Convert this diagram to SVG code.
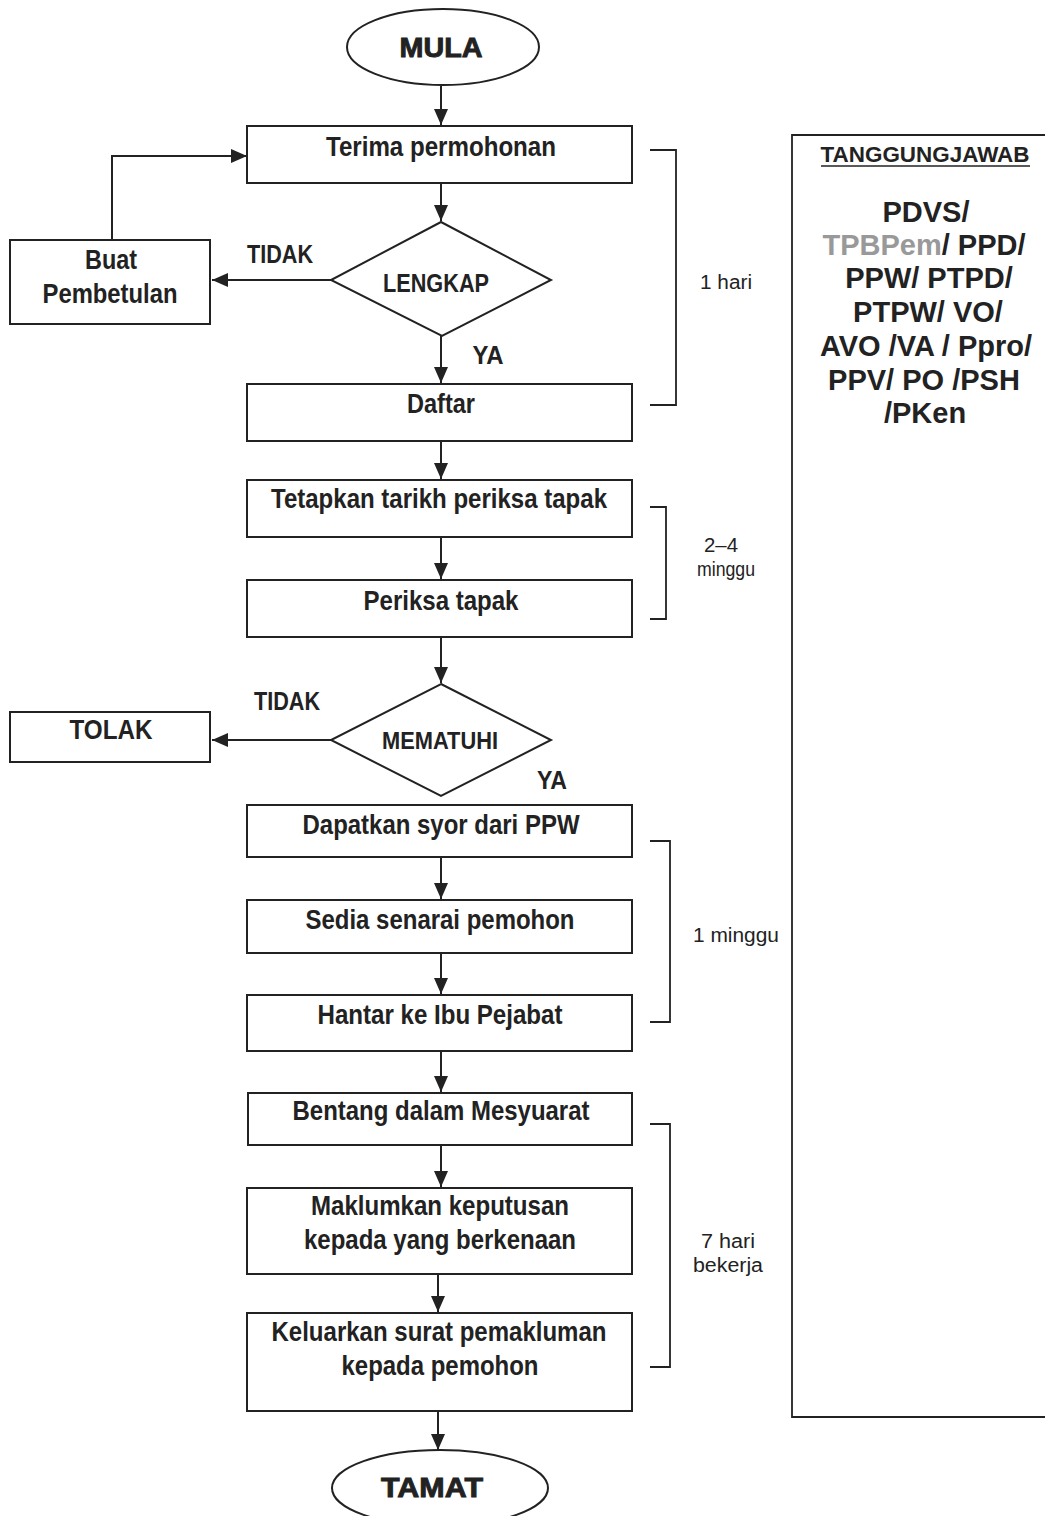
<svg xmlns="http://www.w3.org/2000/svg" width="1045" height="1516" viewBox="0 0 1045 1516">
<style>
.bx{fill:#fff;stroke:#222;stroke-width:2}
.ln{fill:none;stroke:#222;stroke-width:2}
.br{fill:none;stroke:#222;stroke-width:1.8}
.t{font-family:"Liberation Sans",Arial,sans-serif;font-weight:bold;fill:#222;text-anchor:middle}
.n{font-size:28px}
.h{font-size:28px;stroke:#222;stroke-width:0.9}
.r{font-size:29px}
.tm{font-family:"Liberation Sans",Arial,sans-serif;font-size:20px;fill:#222;text-anchor:middle}
</style>
<defs>
<marker id="ah" viewBox="0 0 16 14" markerUnits="userSpaceOnUse" markerWidth="16" markerHeight="14" refX="16" refY="7" orient="auto">
<path d="M0,0 L16,7 L0,14 z" fill="#222"/>
</marker>
</defs>
<rect width="1045" height="1516" fill="#fff"/>

<g id="connectors">
<path class="ln" marker-end="url(#ah)" d="M441,86 V125"/>
<path class="ln" marker-end="url(#ah)" d="M441,183 V221"/>
<path class="ln" marker-end="url(#ah)" d="M331,280 H212"/>
<path class="ln" marker-end="url(#ah)" d="M112,240 V156 H247"/>
<path class="ln" marker-end="url(#ah)" d="M441,336 V383"/>
<path class="ln" marker-end="url(#ah)" d="M441,441 V479"/>
<path class="ln" marker-end="url(#ah)" d="M441,537 V579"/>
<path class="ln" marker-end="url(#ah)" d="M441,637 V683"/>
<path class="ln" marker-end="url(#ah)" d="M331,740 H212"/>
<path class="ln" marker-end="url(#ah)" d="M441,857 V899"/>
<path class="ln" marker-end="url(#ah)" d="M441,953 V994"/>
<path class="ln" marker-end="url(#ah)" d="M441,1051 V1092"/>
<path class="ln" marker-end="url(#ah)" d="M441,1145 V1187"/>
<path class="ln" marker-end="url(#ah)" d="M438,1274 V1312"/>
<path class="ln" marker-end="url(#ah)" d="M438,1411 V1450"/>
<text class="t" x="280" y="263" font-size="25" textLength="66" lengthAdjust="spacingAndGlyphs">TIDAK</text>
<text class="t" x="488" y="364" font-size="25" textLength="31" lengthAdjust="spacingAndGlyphs">YA</text>
<text class="t" x="287" y="710" font-size="25" textLength="66" lengthAdjust="spacingAndGlyphs">TIDAK</text>
<text class="t" x="552" y="789" font-size="25" textLength="30" lengthAdjust="spacingAndGlyphs">YA</text>
</g>

<g id="brackets">
<path class="br" d="M650,150 H676 V405 H650"/>
<text class="tm" x="726" y="289" textLength="52" lengthAdjust="spacingAndGlyphs">1 hari</text>
<path class="br" d="M650,507 H666 V619 H650"/>
<text class="tm" x="721" y="552" textLength="34" lengthAdjust="spacingAndGlyphs">2–4</text>
<text class="tm" x="726" y="576" textLength="58" lengthAdjust="spacingAndGlyphs">minggu</text>
<path class="br" d="M650,841 H670 V1022 H650"/>
<text class="tm" x="736" y="942" textLength="86" lengthAdjust="spacingAndGlyphs">1 minggu</text>
<path class="br" d="M650,1124 H670 V1367 H650"/>
<text class="tm" x="728" y="1248" textLength="54" lengthAdjust="spacingAndGlyphs">7 hari</text>
<text class="tm" x="728" y="1272" textLength="70" lengthAdjust="spacingAndGlyphs">bekerja</text>
</g>

<g id="mula">
<ellipse class="bx" cx="443" cy="47" rx="96" ry="38"/>
<text class="t h" x="441" y="57" textLength="83" lengthAdjust="spacingAndGlyphs">MULA</text>
</g>
<g id="terima">
<rect class="bx" x="247" y="126" width="385" height="57"/>
<text class="t n" x="441" y="156" textLength="230" lengthAdjust="spacingAndGlyphs">Terima permohonan</text>
</g>
<g id="lengkap">
<polygon class="bx" points="441,222 551,280 442,336 331,280"/>
<text class="t" x="436" y="292" font-size="25" textLength="106" lengthAdjust="spacingAndGlyphs">LENGKAP</text>
</g>
<g id="buat">
<rect class="bx" x="10" y="240" width="200" height="84"/>
<text class="t n" x="111" y="269" textLength="52" lengthAdjust="spacingAndGlyphs">Buat</text>
<text class="t n" x="110" y="303" textLength="135" lengthAdjust="spacingAndGlyphs">Pembetulan</text>
</g>
<g id="daftar">
<rect class="bx" x="247" y="384" width="385" height="57"/>
<text class="t n" x="441" y="413" textLength="68" lengthAdjust="spacingAndGlyphs">Daftar</text>
</g>
<g id="tetapkan">
<rect class="bx" x="247" y="480" width="385" height="57"/>
<text class="t n" x="439" y="508" textLength="336" lengthAdjust="spacingAndGlyphs">Tetapkan tarikh periksa tapak</text>
</g>
<g id="periksa">
<rect class="bx" x="247" y="580" width="385" height="57"/>
<text class="t n" x="441" y="610" textLength="155" lengthAdjust="spacingAndGlyphs">Periksa tapak</text>
</g>
<g id="mematuhi">
<polygon class="bx" points="441,684 551,740 441,796 331,740"/>
<text class="t" x="440" y="749" font-size="24" textLength="116" lengthAdjust="spacingAndGlyphs">MEMATUHI</text>
</g>
<g id="tolak">
<rect class="bx" x="10" y="712" width="200" height="50"/>
<text class="t n" x="111" y="739" textLength="83" lengthAdjust="spacingAndGlyphs">TOLAK</text>
</g>
<g id="dapatkan">
<rect class="bx" x="247" y="805" width="385" height="52"/>
<text class="t n" x="441" y="834" textLength="277" lengthAdjust="spacingAndGlyphs">Dapatkan syor dari PPW</text>
</g>
<g id="sedia">
<rect class="bx" x="247" y="900" width="385" height="53"/>
<text class="t n" x="440" y="929" textLength="269" lengthAdjust="spacingAndGlyphs">Sedia senarai pemohon</text>
</g>
<g id="hantar">
<rect class="bx" x="247" y="995" width="385" height="56"/>
<text class="t n" x="440" y="1024" textLength="245" lengthAdjust="spacingAndGlyphs">Hantar ke Ibu Pejabat</text>
</g>
<g id="bentang">
<rect class="bx" x="248" y="1093" width="384" height="52"/>
<text class="t n" x="441" y="1120" textLength="297" lengthAdjust="spacingAndGlyphs">Bentang dalam Mesyuarat</text>
</g>
<g id="maklumkan">
<rect class="bx" x="247" y="1188" width="385" height="86"/>
<text class="t n" x="440" y="1215" textLength="258" lengthAdjust="spacingAndGlyphs">Maklumkan keputusan</text>
<text class="t n" x="440" y="1249" textLength="272" lengthAdjust="spacingAndGlyphs">kepada yang berkenaan</text>
</g>
<g id="keluarkan">
<rect class="bx" x="247" y="1313" width="385" height="98"/>
<text class="t n" x="439" y="1341" textLength="335" lengthAdjust="spacingAndGlyphs">Keluarkan surat pemakluman</text>
<text class="t n" x="440" y="1375" textLength="197" lengthAdjust="spacingAndGlyphs">kepada pemohon</text>
</g>
<g id="tamat">
<ellipse class="bx" cx="440" cy="1488" rx="108" ry="38"/>
<text class="t h" x="432" y="1497" textLength="102" lengthAdjust="spacingAndGlyphs">TAMAT</text>
</g>

<g id="tanggungjawab">
<path class="br" d="M1046,135 H792 V1417 H1046"/>
<text class="t" x="925" y="162" font-size="22" textLength="209" lengthAdjust="spacingAndGlyphs">TANGGUNGJAWAB</text>
<line x1="821" y1="166" x2="1030" y2="166" stroke="#222" stroke-width="1.5"/>
<text class="t r" x="926" y="222">PDVS/</text>
<text class="t r" x="924" y="255"><tspan fill="#999">TPBPem</tspan>/ PPD/</text>
<text class="t r" x="929" y="288">PPW/ PTPD/</text>
<text class="t r" x="928" y="322">PTPW/ VO/</text>
<text class="t r" x="926" y="356">AVO /VA / Ppro/</text>
<text class="t r" x="924" y="390">PPV/ PO /PSH</text>
<text class="t r" x="925" y="423">/PKen</text>
</g>
</svg>
